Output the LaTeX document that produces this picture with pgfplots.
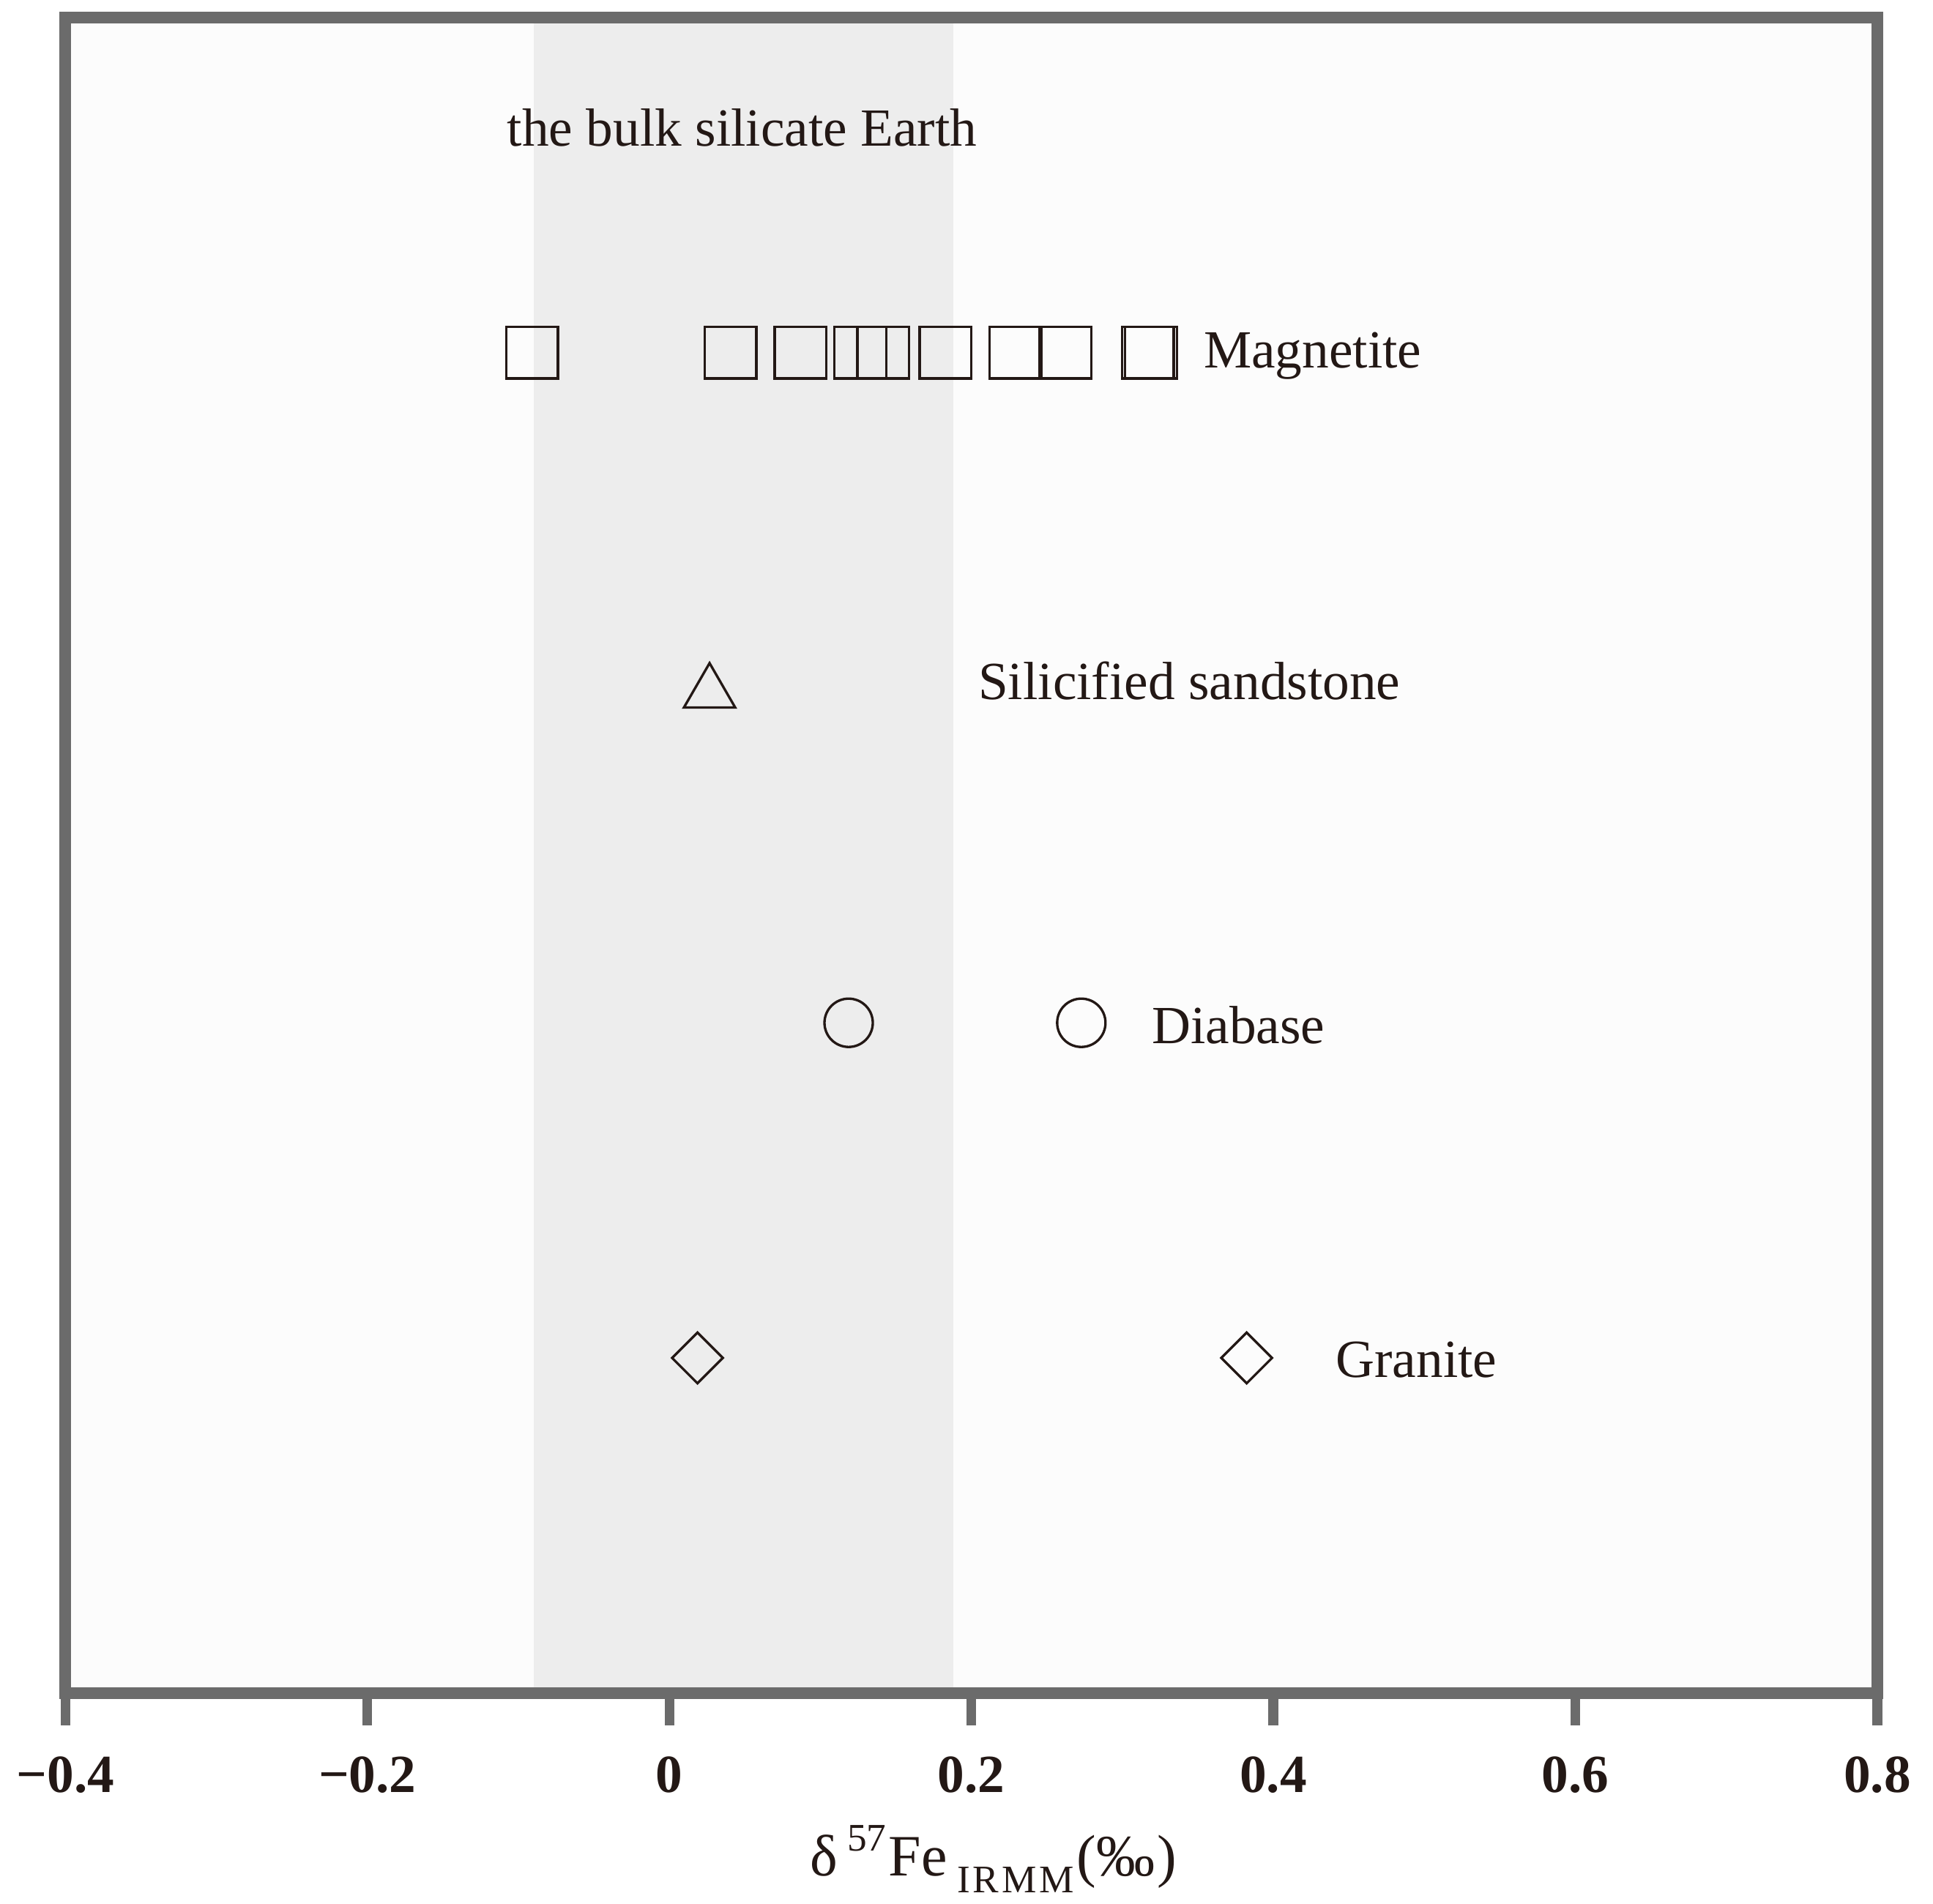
\documentclass[border=0pt]{standalone}
\usepackage{fontspec}
\setmainfont{Liberation Serif}
\usepackage{pgfplots}
\pgfplotsset{compat=1.18}
\definecolor{ink}{HTML}{231815}
\definecolor{framec}{HTML}{6B6B6B}
\definecolor{band}{HTML}{EDEDED}
\pgfplotstableread{
x y
-0.091 4
0.0405 4
0.0868 4
0.1264 4
0.1416 4
0.1828 4
0.2292 4
0.2622 4
0.3169 4
0.3189 4
}\magnetite
\pgfplotstableread{
x y
0.0266 2.985
}\sandstone
\pgfplotstableread{
x y
0.1187 2
0.2728 2
}\diabase
\pgfplotstableread{
x y
0.0186 1
0.3823 1
}\granite
\begin{document}
\begin{tikzpicture}
\begin{axis}[
  scale only axis, width=371.2pt, height=343.35pt,
  xmin=-0.4, xmax=0.8, ymin=0, ymax=5,
  axis on top,
  axis background/.style={fill=white!98.8!black},
  axis line style={draw=framec, line width=2.4pt},
  ytick=\empty,
  xtick={-0.4,-0.2,0,0.2,0.4,0.6,0.8},
  xticklabels={−0.4,−0.2,0,0.2,0.4,0.6,0.8},
  xtick pos=bottom, tick align=outside,
  major tick length=6.6pt,
  every tick/.style={draw=framec, line width=2pt},
  xticklabel style={font=\fontsize{11}{13}\selectfont\bfseries, text=ink, yshift=-2.9pt},
  xlabel={δ\,\raisebox{0.15ex}{\textsuperscript{57}}Fe\,\raisebox{-0.3ex}{\textsubscript{I\kern0.6pt R\kern0.6pt M\kern0.6pt M}}(‰\kern0.5pt)},
  xlabel style={at={(axis description cs:0.5,0)}, anchor=base, xshift=4.5pt, yshift=-37.5pt, font=\fontsize{12}{14}\selectfont, text=ink},
  clip=false,
]
\addplot[draw=none, fill=band] coordinates {(-0.09,0) (0.188,0) (0.188,5) (-0.09,5)} -- cycle;
\addplot[only marks, mark=square, mark size=5.3pt, mark options={draw=ink, fill=none, line width=0.5pt}] table {\magnetite};
\addplot[only marks, mark=triangle, mark size=6.06pt, mark options={draw=ink, fill=none, line width=0.5pt}] table {\sandstone};
\addplot[only marks, mark=o, mark size=4.95pt, mark options={draw=ink, fill=none, line width=0.5pt}] table {\diabase};
\addplot[only marks, mark=square, mark size=3.68pt, mark options={draw=ink, fill=none, line width=0.5pt, rotate=45}] table {\granite};
\begin{scope}[every node/.style={anchor=base west, inner sep=0pt, text=ink, font=\fontsize{11}{13}\selectfont}]
\node at (axis cs:-0.108,4.616) {the bulk silicate Earth};
\node at (axis cs:0.3533,3.954) {Magnetite};
\node at (axis cs:0.2039,2.964) {Silicified sandstone};
\node at (axis cs:0.3189,1.9375) {Diabase};
\node at (axis cs:0.4407,0.942) {Granite};
\end{scope}
\end{axis}
\pgfresetboundingbox
\path[use as bounding box] ([xshift=-13.4pt,yshift=-43.2pt]current axis.south west) rectangle ([xshift=11.4pt,yshift=3.57pt]current axis.north east);
\end{tikzpicture}
\end{document}
